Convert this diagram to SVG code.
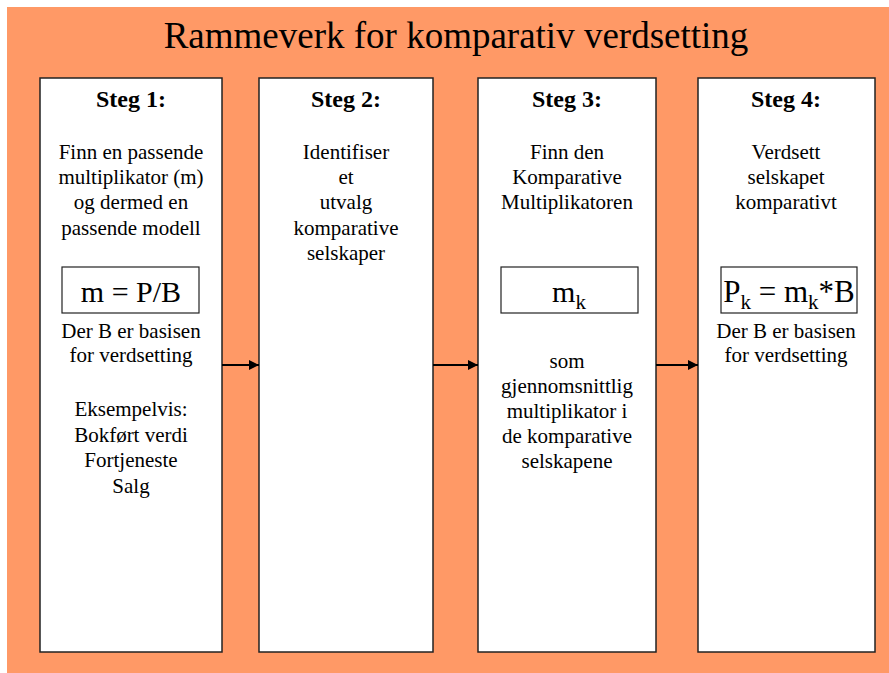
<svg xmlns="http://www.w3.org/2000/svg" width="889" height="673" viewBox="0 0 889 673">
<style>
.bg{fill:#FF9966}
.box{fill:#fff;stroke:#222;stroke-width:1.5}
.fbox{fill:none;stroke:#222;stroke-width:1.2}
text{font-family:"Liberation Serif","Times New Roman",serif;fill:#000;text-anchor:middle}
.t{font-size:37px}
.h{font-size:24px;font-weight:bold}
.b{font-size:21px}
.f{font-size:30px}
.f4{font-size:31px}
.s{font-size:21px}
.conn line{stroke:#000;stroke-width:2}
</style>
<defs>
<marker id="ah" viewBox="0 0 10 10" refX="10" refY="5" markerWidth="5" markerHeight="5" orient="auto" markerUnits="strokeWidth">
<path d="M0,0 L10,5 L0,10 z" fill="#000"/>
</marker>
</defs>
<rect x="0" y="0" width="889" height="673" fill="#fff"/>
<rect class="bg" x="7" y="7" width="882" height="666"/>
<text class="t" x="456" y="48">Rammeverk for komparativ verdsetting</text>

<g id="steg1">
<rect class="box" x="40" y="78" width="182" height="574"/>
<text class="h" x="131" y="107">Steg 1:</text>
<text class="b" x="131" y="159">Finn en passende</text>
<text class="b" x="131" y="184">multiplikator (m)</text>
<text class="b" x="131" y="209">og dermed en</text>
<text class="b" x="131" y="235">passende modell</text>
<rect class="fbox" x="62" y="267" width="137" height="46"/>
<text class="f" x="131" y="302">m = P/B</text>
<text class="b" x="131" y="338">Der B er basisen</text>
<text class="b" x="131" y="362">for verdsetting</text>
<text class="b" x="131" y="416">Eksempelvis:</text>
<text class="b" x="131" y="442">Bokført verdi</text>
<text class="b" x="131" y="467">Fortjeneste</text>
<text class="b" x="131" y="493">Salg</text>
</g>

<g id="steg2">
<rect class="box" x="259" y="78" width="174" height="574"/>
<text class="h" x="346" y="107">Steg 2:</text>
<text class="b" x="346" y="159">Identifiser</text>
<text class="b" x="346" y="184">et</text>
<text class="b" x="346" y="209">utvalg</text>
<text class="b" x="346" y="235">komparative</text>
<text class="b" x="346" y="260">selskaper</text>
</g>

<g id="steg3">
<rect class="box" x="478" y="78" width="178" height="574"/>
<text class="h" x="567" y="107">Steg 3:</text>
<text class="b" x="567" y="159">Finn den</text>
<text class="b" x="567" y="184">Komparative</text>
<text class="b" x="567" y="209">Multiplikatoren</text>
<rect class="fbox" x="501" y="267" width="137" height="46"/>
<text class="f" x="569" y="302">m<tspan class="s" dy="7">k</tspan></text>
<text class="b" x="567" y="368">som</text>
<text class="b" x="567" y="393">gjennomsnittlig</text>
<text class="b" x="567" y="418">multiplikator i</text>
<text class="b" x="567" y="443">de komparative</text>
<text class="b" x="567" y="468">selskapene</text>
</g>

<g id="steg4">
<rect class="box" x="698" y="78" width="177" height="574"/>
<text class="h" x="786" y="107">Steg 4:</text>
<text class="b" x="786" y="159">Verdsett</text>
<text class="b" x="786" y="184">selskapet</text>
<text class="b" x="786" y="209">komparativt</text>
<rect class="fbox" x="721" y="267" width="136" height="46"/>
<text class="f4" x="789" y="302">P<tspan class="s" dy="7">k</tspan><tspan dy="-7"> = m</tspan><tspan class="s" dy="7">k</tspan><tspan dy="-7">*B</tspan></text>
<text class="b" x="786" y="338">Der B er basisen</text>
<text class="b" x="786" y="362">for verdsetting</text>
</g>

<g id="connectors" class="conn">
<line x1="222" y1="365" x2="259" y2="365" marker-end="url(#ah)"/>
<line x1="433" y1="365" x2="478" y2="365" marker-end="url(#ah)"/>
<line x1="656" y1="365" x2="698" y2="365" marker-end="url(#ah)"/>
</g>
</svg>
